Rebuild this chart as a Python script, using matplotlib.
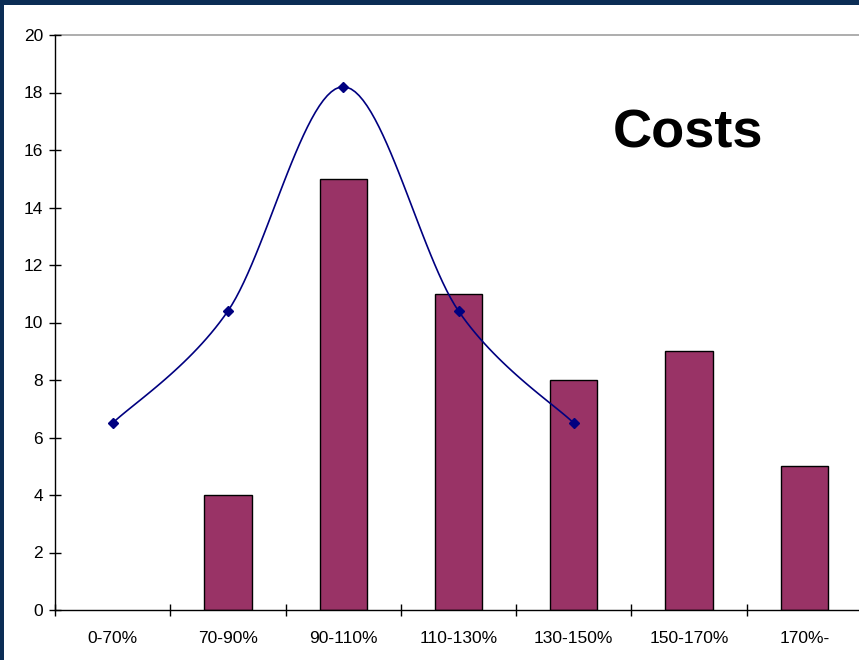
import numpy as np
import matplotlib.pyplot as plt
from matplotlib.patches import Rectangle

plt.rcParams['font.family'] = ['Liberation Sans', 'DejaVu Sans']

categories = ['0-70%', '70-90%', '90-110%', '110-130%', '130-150%', '150-170%', '170%-']
bar_values = [0, 4, 15, 11, 8, 9, 5]
curve_values = [6.5, 10.4, 18.2, 10.4, 6.5]


def catmull_rom(xs, ys, n=30):
    # smoothed line through the points, like a spreadsheet "smoothed line"
    px = np.concatenate([[xs[0]], xs, [xs[-1]]])
    py = np.concatenate([[ys[0]], ys, [ys[-1]]])
    out_x, out_y = [], []
    t = np.linspace(0, 1, n)
    for i in range(1, len(px) - 2):
        for p, out in ((px, out_x), (py, out_y)):
            p0, p1, p2, p3 = p[i - 1], p[i], p[i + 1], p[i + 2]
            out.extend(0.5 * (2 * p1 + (-p0 + p2) * t
                              + (2 * p0 - 5 * p1 + 4 * p2 - p3) * t ** 2
                              + (-p0 + 3 * p1 - 3 * p2 + p3) * t ** 3))
    return np.array(out_x), np.array(out_y)


fig = plt.figure(figsize=(8.59, 6.60), dpi=100)
fig.patch.set_facecolor('white')
# dark frame along top and left edges
fig.patches.append(Rectangle((0, 1 - 5 / 660), 1, 5 / 660, transform=fig.transFigure,
                             facecolor='#0b2d55', edgecolor='none', zorder=0))
fig.patches.append(Rectangle((0, 0), 4 / 859, 1, transform=fig.transFigure,
                             facecolor='#0b2d55', edgecolor='none', zorder=0))

ax = fig.add_axes([55 / 859, 50 / 660, 807 / 859, 575 / 660])

x = np.arange(len(categories))
heights = np.array(bar_values, dtype=float)
shown = heights > 0
ax.bar(x[shown], heights[shown], width=0.41, color='#993366', edgecolor='black',
       linewidth=1, zorder=2)

cx = x[:len(curve_values)]
sx, sy = catmull_rom(cx.astype(float), np.array(curve_values))
ax.plot(sx, sy, color='#000080', linewidth=1.2, zorder=3)
ax.plot(cx, curve_values, linestyle='none', marker='D', markersize=5,
        color='#000080', zorder=4)

ax.set_xlim(-0.5, len(categories) - 0.5)
ax.set_ylim(0, 20)
ax.set_yticks(range(0, 21, 2))
ax.set_xticks(x)
ax.set_xticklabels(categories)
ax.set_xticks(np.arange(-0.5, len(categories), 1), minor=True)
ax.tick_params(axis='x', which='major', length=0, pad=15, labelsize=12.5)
ax.tick_params(axis='x', which='minor', direction='inout', length=9, width=1)
ax.tick_params(axis='y', direction='inout', length=9, width=1, labelsize=12.5, pad=4)

ax.axhline(20, color='#a0a0a0', linewidth=1.2, zorder=1, clip_on=False)
for side in ('top', 'right'):
    ax.spines[side].set_visible(False)
for side in ('left', 'bottom'):
    ax.spines[side].set_linewidth(1)

ax.text(688 / 859, 1 - 134 / 660, 'Costs', transform=fig.transFigure, ha='center',
        va='center', fontsize=39, fontweight='bold')

fig.savefig('out.png', dpi=100)
